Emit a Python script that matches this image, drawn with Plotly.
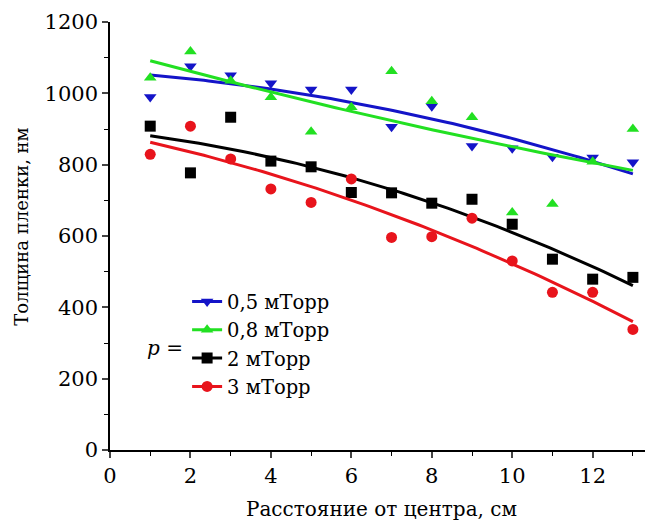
import numpy as np
import plotly.graph_objects as go

distance_cm = [1, 2, 3, 4, 5, 6, 7, 8, 9, 10, 11, 12, 13]

thickness_05 = [990, 1076, 1051, 1028, 1011, 1011, 906, 964, 852, 846, 822, 820, 807]
thickness_08 = [1044, 1117, 1035, 989, 892, 961, 1062, 978, 933, 666, 690, 808, 900]
thickness_2 = [908, 777, 933, 810, 794, 722, 721, 692, 703, 633, 535, 479, 484]
thickness_3 = [829, 908, 816, 732, 694, 760, 596, 598, 650, 530, 442, 442, 338]

series_names = ["0,5 мТорр", "0,8 мТорр", "2 мТорр", "3 мТорр"]
series_values = [thickness_05, thickness_08, thickness_2, thickness_3]
series_colors = ["#1414c8", "#22e022", "#000000", "#e8141c"]
series_symbols = ["triangle-down", "triangle-up", "square", "circle"]

x_ticks = [0, 2, 4, 6, 8, 10, 12]
y_ticks = [0, 200, 400, 600, 800, 1000, 1200]

FONT = "DejaVu Serif"

fig = go.Figure()
x_arr = np.array(distance_cm, dtype=float)
x_fit = np.linspace(x_arr.min(), x_arr.max(), 100)

for name, vals, col, sym in zip(series_names, series_values, series_colors, series_symbols):
    coef = np.polyfit(x_arr, np.array(vals, dtype=float), 2)
    fig.add_trace(go.Scatter(x=distance_cm, y=vals, mode="markers",
                             marker=dict(symbol=sym, size=11, color=col),
                             showlegend=False, hoverinfo="skip"))
    fig.add_trace(go.Scatter(x=x_fit, y=np.polyval(coef, x_fit), mode="lines",
                             line=dict(color=col, width=3), showlegend=False))
    fig.add_trace(go.Scatter(x=[None], y=[None], mode="lines+markers", name=name,
                             marker=dict(symbol=sym, size=11, color=col),
                             line=dict(color=col, width=3)))

fig.update_layout(
    width=653, height=521,
    margin=dict(l=102, r=8, t=14, b=79, autoexpand=False),
    paper_bgcolor="white", plot_bgcolor="white",
    font=dict(family=FONT, size=20, color="black"),
    showlegend=True,
    legend=dict(x=0.142, y=0.392, xanchor="left", yanchor="top",
                bgcolor="rgba(0,0,0,0)", font=dict(family=FONT, size=19.5),
                tracegroupgap=0, itemwidth=30),
    annotations=[
        dict(text="<i>p</i> =", x=0.0645, y=0.238, xref="paper", yref="paper",
             xanchor="left", yanchor="middle",
             showarrow=False, font=dict(family=FONT, size=20)),
        dict(text="Толщина пленки, нм", x=-0.163, y=0.523, xref="paper", yref="paper",
             xanchor="center", yanchor="middle", textangle=-90,
             showarrow=False, font=dict(family=FONT, size=18)),
    ],
)
fig.update_xaxes(range=[0, 13.5], tickvals=x_ticks, ticks="outside", ticklen=6,
                 tickwidth=1.5, showline=True, linecolor="black", linewidth=1.5,
                 showgrid=False, zeroline=False, automargin=False,
                 minor=dict(dtick=1, ticks="outside", ticklen=4, tickwidth=1.2, tickcolor="black"),
                 title=dict(text="Расстояние от центра, см", standoff=15, font=dict(family=FONT, size=20)),
                 tickfont=dict(family=FONT, size=21))
fig.update_yaxes(range=[0, 1200], tickvals=y_ticks, ticks="outside", ticklen=6,
                 tickwidth=1.5, showline=True, linecolor="black", linewidth=1.5,
                 showgrid=False, zeroline=False, automargin=False,
                 minor=dict(dtick=100, ticks="outside", ticklen=4, tickwidth=1.2, tickcolor="black"),
                 tickfont=dict(family=FONT, size=21))

fig.write_html("out.html")
